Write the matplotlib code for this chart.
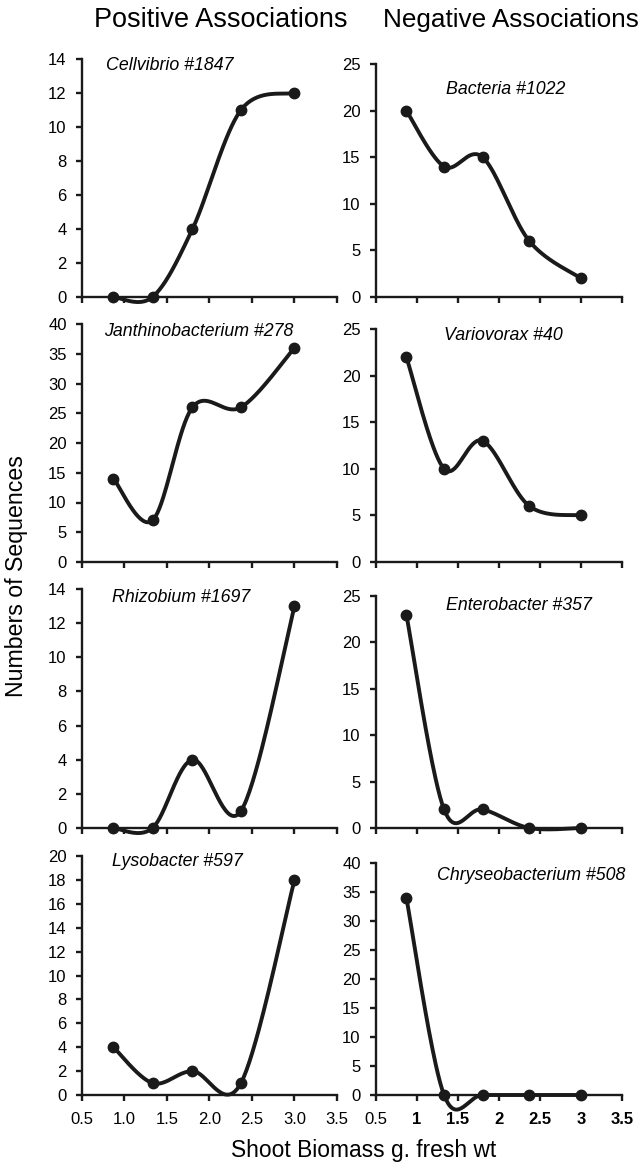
import numpy as np
import matplotlib
matplotlib.use("Agg")
import matplotlib.pyplot as plt

plt.rcParams['font.family'] = ['Liberation Sans', 'DejaVu Sans']

# shoot biomass (g fresh wt) for the five samples
biomass = [0.87, 1.33, 1.80, 2.37, 3.0]

# positive associations (left column)
cellvibrio = [0, 0, 4, 11, 12]
janthino = [14, 7, 26, 26, 36]
rhizobium = [0, 0, 4, 1, 13]
lysobacter = [4, 1, 2, 1, 18]

# negative associations (right column)
bacteria = [20, 14, 15, 6, 2]
variovorax = [22, 10, 13, 6, 5]
enterobacter = [23, 2, 2, 0, 0]
chryseo = [34, 0, 0, 0, 0]

names_left = ["Cellvibrio #1847", "Janthinobacterium #278", "Rhizobium #1697", "Lysobacter #597"]
names_right = ["Bacteria #1022", "Variovorax #40", "Enterobacter #357", "Chryseobacterium #508"]
ymax_left = [14, 40, 14, 20]
ystep_left = [2, 5, 2, 2]
ymax_right = [25, 25, 25, 40]
ystep_right = [5, 5, 5, 5]

W, H = 639, 1163
fig = plt.figure(figsize=(W / 100, H / 100), dpi=100)


def rect(x0, x1, ytop, ybot):
    return [x0 / W, 1 - ybot / H, (x1 - x0) / W, (ybot - ytop) / H]


def smooth(x, y, n=40):
    # excel-like smoothed line (catmull-rom as bezier)
    p = np.column_stack([x, y]).astype(float)
    p = np.vstack([p[0], p, p[-1]])
    out = []
    t = np.linspace(0, 1, n)[:, None]
    for i in range(1, len(p) - 2):
        a, b = p[i], p[i + 1]
        c1 = a + (p[i + 1] - p[i - 1]) / 6
        c2 = b - (p[i + 2] - p[i]) / 6
        seg = (1 - t) ** 3 * a + 3 * (1 - t) ** 2 * t * c1 + 3 * (1 - t) * t ** 2 * c2 + t ** 3 * b
        out.append(seg)
    out = np.vstack(out)
    return out[:, 0], out[:, 1]


left_rows = [(59, 297), (324, 562), (589, 828), (856, 1095)]
right_rows = [(64, 297), (329, 562), (596, 828), (863, 1095)]
left_title_pos = [(106, 65), (104, 332), (112, 597), (112, 861)]
right_title_pos = [(446, 89), (444, 335), (446, 605), (437, 875)]

left_data = [cellvibrio, janthino, rhizobium, lysobacter]
right_data = [bacteria, variovorax, enterobacter, chryseo]


def draw(ax, y, ymax, ystep):
    sx, sy = smooth(biomass, y)
    ax.plot(sx, sy, color='#1a1a1a', lw=2.8, solid_capstyle='round', clip_on=False)
    ax.plot(biomass, y, 'o', color='#1a1a1a', ms=7.5, clip_on=False, zorder=3)
    ax.set_xlim(0.5, 3.5)
    ax.set_ylim(0, ymax)
    ax.set_yticks(np.arange(0, ymax + 0.1, ystep))
    ax.set_xticks(np.arange(0.5, 3.51, 0.5))
    for s in ['top', 'right']:
        ax.spines[s].set_visible(False)
    for s in ['left', 'bottom']:
        ax.spines[s].set_linewidth(1.7)
        ax.spines[s].set_color('#1a1a1a')
    ax.tick_params(direction='out', length=4, width=1.7, labelsize=12, color='#1a1a1a')
    ax.tick_params(axis='y', pad=7)
    ax.tick_params(axis='x', pad=8)
    ax.patch.set_alpha(0)


for i in range(4):
    axl = fig.add_axes(rect(82, 337, *left_rows[i]))
    draw(axl, left_data[i], ymax_left[i], ystep_left[i])
    axr = fig.add_axes(rect(376, 622, *right_rows[i]))
    draw(axr, right_data[i], ymax_right[i], ystep_right[i])
    fig.text(left_title_pos[i][0] / W, 1 - left_title_pos[i][1] / H, names_left[i],
             style='italic', fontsize=12.8, va='center', ha='left')
    fig.text(right_title_pos[i][0] / W, 1 - right_title_pos[i][1] / H, names_right[i],
             style='italic', fontsize=12.8, va='center', ha='left')
    if i < 3:
        axl.set_xticklabels([])
        axr.set_xticklabels([])
    else:
        axl.set_xticklabels(["0.5", "1.0", "1.5", "2.0", "2.5", "3.0", "3.5"])
        labs = axr.set_xticklabels(["0.5", "1", "1.5", "2", "2.5", "3", "3.5"])
        for lab in labs[1:]:
            lab.set_fontweight('bold')

fig.text(94 / W, 1 - 20 / H, "Positive Associations", fontsize=19.5, ha='left', va='center')
fig.text(383 / W, 1 - 20 / H, "Negative Associations", fontsize=18.8, ha='left', va='center')
fig.text(17 / W, 1 - 576 / H, "Numbers of Sequences", fontsize=16.7, rotation=90, ha='center', va='center')
fig.text(364 / W, 1 - 1150 / H, "Shoot Biomass g. fresh wt", fontsize=16.4, ha='center', va='center')

fig.savefig("out.png", dpi=100)
